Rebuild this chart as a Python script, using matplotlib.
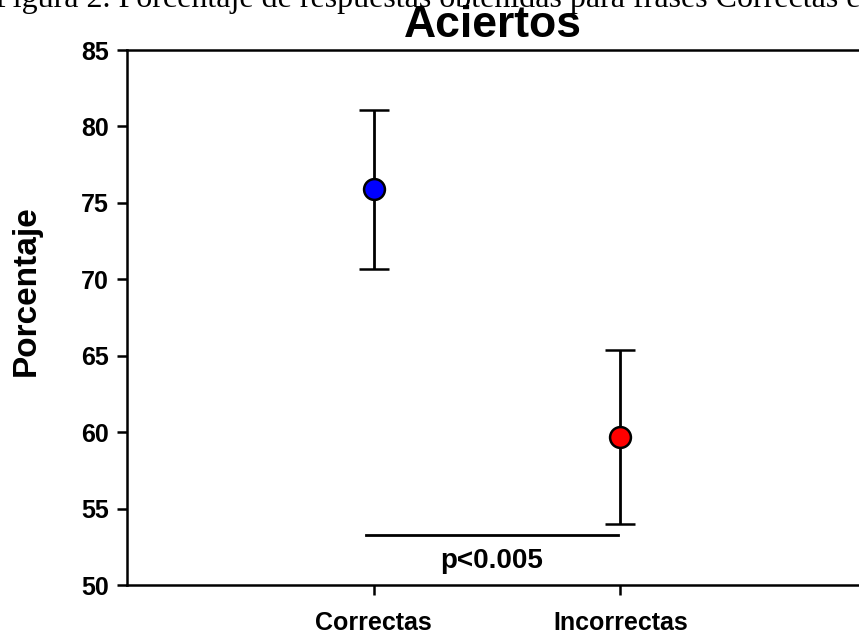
import matplotlib.pyplot as plt

plt.rcParams["font.family"] = ["Liberation Sans", "DejaVu Sans"]

# data
categories = ["Correctas", "Incorrectas"]
means = [75.9, 59.7]
err_low = [5.25, 5.7]
err_high = [5.2, 5.65]
colors = ["#0000ff", "#ff0000"]
p_text = "p<0.005"
p_level = 53.3
yticks = [50, 55, 60, 65, 70, 75, 80, 85]

fig = plt.figure(figsize=(8.59, 6.34), dpi=100)
ax = fig.add_axes([127 / 859, 1 - 585 / 634, 740 / 859, 535 / 634])

xpos = [1, 2]
for x, m, lo, hi, c in zip(xpos, means, err_low, err_high, colors):
    ax.errorbar(x, m, yerr=[[lo], [hi]], fmt="o", color="black", ecolor="black",
                elinewidth=2, capsize=11, capthick=2, markersize=15,
                markerfacecolor=c, markeredgecolor="black", markeredgewidth=1.8,
                zorder=3)

# significance line
ax.plot([0.97, 1.99], [p_level, p_level], color="black", lw=2)
ax.text(1.48, p_level - 0.9, p_text, ha="center", va="top",
        fontsize=20, fontweight="bold")

ax.set_xlim(0, 3)
ax.set_ylim(50, 85)
ax.set_xticks(xpos)
ax.set_xticklabels(categories, fontsize=18, fontweight="bold")
ax.set_yticks(yticks)
ax.set_yticklabels([str(t) for t in yticks], fontsize=18, fontweight="bold")
ax.tick_params(axis="x", direction="out", length=7, width=1.8, pad=12)
ax.tick_params(axis="y", direction="out", length=7, width=1.8, pad=6)
for side in ax.spines.values():
    side.set_linewidth(1.8)
ax.spines["right"].set_visible(False)

ax.set_ylabel("Porcentaje", fontsize=24, fontweight="bold")
ax.yaxis.set_label_coords(-0.115, 0.55)
fig.text(493 / 859, 1 - 37 / 634, "Aciertos", ha="center", va="baseline",
         fontsize=32, fontweight="bold")

# caption cut off at the top of the page
fig.text(-5 / 859, 1 - 7.5 / 634,
         "Figura 2. Porcentaje de respuestas obtenidas para frases Correctas e Incorrectas",
         ha="left", va="baseline", fontsize=23,
         family=["Liberation Serif", "DejaVu Serif"])

fig.savefig("out.png", dpi=100)
